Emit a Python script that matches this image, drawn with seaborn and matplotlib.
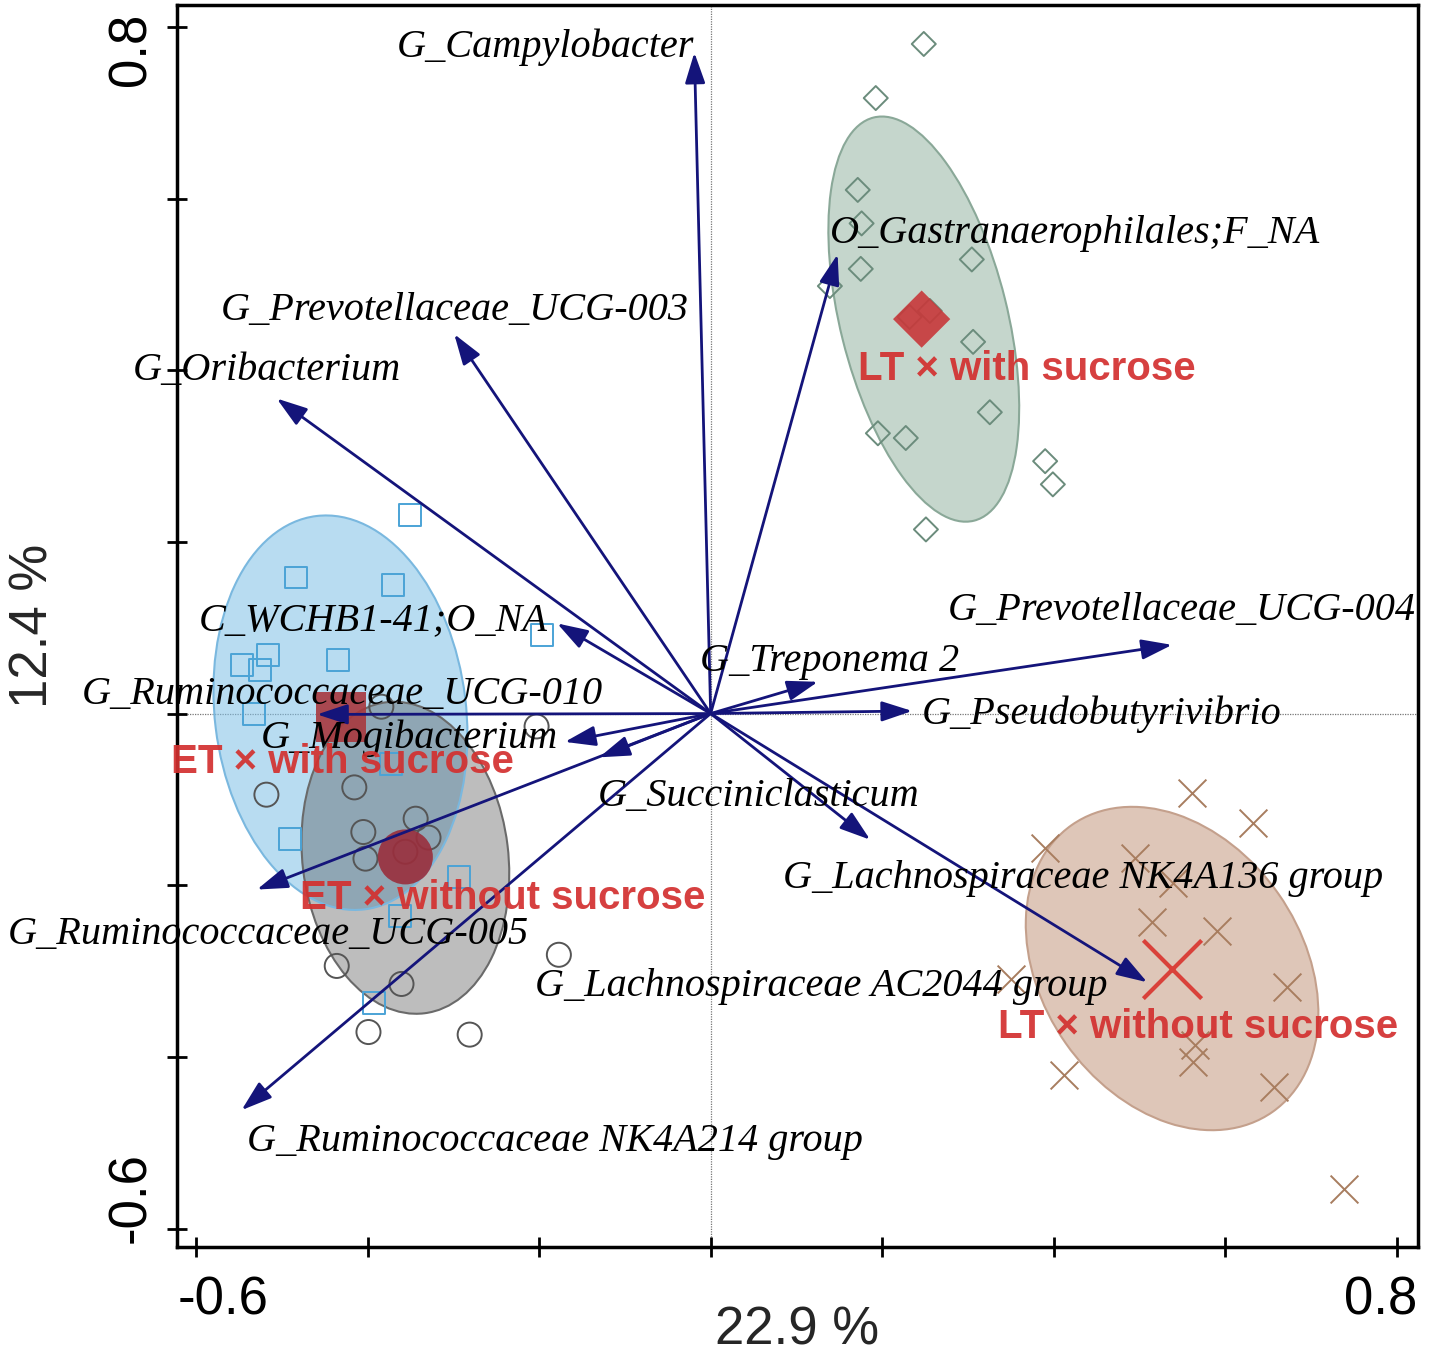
import numpy as np
import pandas as pd
import matplotlib
matplotlib.use("Agg")
import matplotlib.pyplot as plt
import matplotlib.transforms as mtransforms
import seaborn as sns
from matplotlib.patches import Ellipse

# --- Dati (RDA biplot) ---
species = [
    "G_Campylobacter", "O_Gastranaerophilales;F_NA", "G_Prevotellaceae_UCG-003",
    "G_Oribacterium", "C_WCHB1-41;O_NA", "G_Ruminococcaceae_UCG-010",
    "G_Mogibacterium", "G_Succiniclasticum", "G_Ruminococcaceae_UCG-005",
    "G_Ruminococcaceae NK4A214 group", "G_Lachnospiraceae AC2044 group",
    "G_Lachnospiraceae NK4A136 group", "G_Pseudobutyrivibrio", "G_Treponema 2",
    "G_Prevotellaceae_UCG-004",
]
arrow_x = [-0.019, 0.148, -0.299, -0.506, -0.179, -0.459, -0.170, -0.130,
           -0.529, -0.547, 0.509, 0.186, 0.235, 0.125, 0.538]
arrow_y = [0.770, 0.535, 0.442, 0.367, 0.105, -0.001, -0.033, -0.051,
           -0.205, -0.462, -0.313, -0.147, 0.003, 0.037, 0.080]

groups = ["LT × with sucrose", "LT × without sucrose",
          "ET × with sucrose", "ET × without sucrose"]

lt_suc_x = [0.2485, 0.1925, 0.1715, 0.176, 0.175, 0.139, 0.3045, 0.232,
            0.2555, 0.306, 0.3255, 0.195, 0.2275, 0.390, 0.399, 0.251]
lt_suc_y = [0.780, 0.717, 0.610, 0.571, 0.518, 0.498, 0.529, 0.462,
            0.469, 0.433, 0.351, 0.3265, 0.321, 0.294, 0.267, 0.2145]

lt_nosuc_x = [0.561, 0.632, 0.390, 0.495, 0.539, 0.5145, 0.590, 0.672,
              0.350, 0.565, 0.562, 0.412, 0.657, 0.7385]
lt_nosuc_y = [-0.093, -0.127, -0.157, -0.168, -0.197, -0.2425, -0.253, -0.318,
              -0.309, -0.386, -0.406, -0.421, -0.435, -0.554]

et_suc_x = [-0.351, -0.483, -0.370, -0.197, -0.547, -0.516, -0.526, -0.434,
            -0.532, -0.491, -0.293, -0.362, -0.393, -0.373]
et_suc_y = [0.231, 0.1585, 0.150, 0.091, 0.057, 0.068, 0.051, 0.062,
            0.000, -0.146, -0.190, -0.2355, -0.337, -0.059]

et_nosuc_x = [-0.384, -0.203, -0.518, -0.4155, -0.405, -0.344, -0.329, -0.4025,
              -0.356, -0.177, -0.436, -0.3605, -0.399, -0.281]
et_nosuc_y = [0.008, -0.015, -0.0945, -0.086, -0.138, -0.1225, -0.1445, -0.169,
              -0.161, -0.281, -0.294, -0.315, -0.371, -0.374]

# centroidi dei gruppi
cent_x = [0.246, 0.538, -0.4306, -0.356]
cent_y = [0.4595, -0.297, -0.0035, -0.167]

# ellissi di confidenza: centro, larghezza, altezza, angolo
ell_x = [0.2485, 0.538, -0.4317, -0.356]
ell_y = [0.4595, -0.297, 0.001, -0.168]
ell_w = [0.484, 0.408, 0.4616, 0.365]
ell_h = [0.195, 0.303, 0.293, 0.240]
ell_angle = [104, -55, 97, 97]

samples = pd.concat([
    pd.DataFrame({"x": lt_suc_x, "y": lt_suc_y, "group": groups[0]}),
    pd.DataFrame({"x": lt_nosuc_x, "y": lt_nosuc_y, "group": groups[1]}),
    pd.DataFrame({"x": et_suc_x, "y": et_suc_y, "group": groups[2]}),
    pd.DataFrame({"x": et_nosuc_x, "y": et_nosuc_y, "group": groups[3]}),
], ignore_index=True)

# --- Stile ---
SANS = ["Liberation Sans", "DejaVu Sans"]
SERIF = ["Liberation Serif", "DejaVu Serif"]
sns.set_style("ticks")
plt.rcParams["font.family"] = SANS

marker_map = {groups[0]: "D", groups[1]: "x", groups[2]: "s", groups[3]: "o"}
size_map = {groups[0]: 150, groups[1]: 400, groups[2]: 250, groups[3]: 300}
point_col = {groups[0]: "#6b8c7c", groups[1]: "#a87d5f",
             groups[2]: "#4ba3d6", groups[3]: "#555555"}
ell_face = ["#9fbcab", "#c9a08a", "#7fc0e6", "#404040"]
ell_alpha = [0.6, 0.6, 0.55, 0.34]
ell_edge = ["#8aa898", "#c4a08c", "#7ab8df", "#6a6a6a"]
cent_size = [850, 1760, 1300, 1570]
cent_col = ["#c8383a", "#d9413a", "#a8383e", "#9a2e3c"]

# posizioni delle etichette (layout)
sp_lab = [(-0.019, 0.781, "right"), (0.139, 0.564, "left"), (-0.025, 0.475, "right"),
          (-0.674, 0.405, "left"), (-0.190, 0.114, "right"), (-0.733, 0.028, "left"),
          (-0.524, -0.024, "left"), (-0.132, -0.091, "left"), (-0.820, -0.252, "left"),
          (-0.541, -0.493, "left"), (-0.205, -0.313, "left"), (0.084, -0.187, "left"),
          (0.246, 0.005, "left"), (-0.013, 0.066, "left"), (0.277, 0.125, "left")]
grp_lab = [(0.369, 0.401), (0.568, -0.365), (-0.429, -0.056), (-0.243, -0.2145)]

fig = plt.figure(figsize=(14.35, 13.58), dpi=100)
ax = fig.add_axes([0.1235, 0.082, 0.8645, 0.9145])

ax.axvline(0, color="#777777", lw=0.9, ls=(0, (1, 1)), zorder=0.5)
ax.axhline(0, color="#777777", lw=0.9, ls=(0, (1, 1)), zorder=0.5)

for i in range(4):
    e = Ellipse((ell_x[i], ell_y[i]), ell_w[i], ell_h[i], angle=ell_angle[i],
                facecolor=ell_face[i], alpha=ell_alpha[i], edgecolor="none", zorder=1)
    ax.add_patch(e)
    e2 = Ellipse((ell_x[i], ell_y[i]), ell_w[i], ell_h[i], angle=ell_angle[i],
                 facecolor="none", edgecolor=ell_edge[i], lw=1.5, zorder=1.1)
    ax.add_patch(e2)

for g in groups:
    d = samples[samples["group"] == g]
    if marker_map[g] == "x":
        sns.scatterplot(data=d, x="x", y="y", marker="x", s=size_map[g],
                        color=point_col[g], linewidth=1.4, ax=ax, zorder=2)
    else:
        sns.scatterplot(data=d, x="x", y="y", marker=marker_map[g], s=size_map[g],
                        facecolor="none", edgecolor=point_col[g], linewidth=1.4,
                        ax=ax, zorder=2)

for i, g in enumerate(groups):
    if marker_map[g] == "x":
        ax.scatter(cent_x[i], cent_y[i], marker="x", s=cent_size[i], color=cent_col[i],
                   linewidths=3, zorder=3)
    else:
        ax.scatter(cent_x[i], cent_y[i], marker=marker_map[g], s=cent_size[i],
                   color=cent_col[i], edgecolors="none", alpha=0.9, zorder=3)

for name, tx, ty in zip(species, arrow_x, arrow_y):
    ax.annotate("", xy=(tx, ty), xytext=(0, 0),
                arrowprops=dict(arrowstyle="-|>,head_length=0.85,head_width=0.28",
                                color="#14147a", lw=2, mutation_scale=22,
                                shrinkA=0, shrinkB=0), zorder=4)

for name, (lx, ly, ha) in zip(species, sp_lab):
    ax.text(lx, ly, name, ha=ha, va="center_baseline", fontsize=29,
            family=SERIF, style="italic", color="black", zorder=5)

for g, (lx, ly) in zip(groups, grp_lab):
    ax.text(lx, ly, g, ha="center", va="center", fontsize=29, fontweight="bold",
            color="#d3302f", alpha=0.92, zorder=6)

ax.set_xlim(-0.622, 0.8245)
ax.set_ylim(-0.621, 0.8257)
ticks = [-0.6, -0.4, -0.2, 0.0, 0.2, 0.4, 0.6, 0.8]
tick_labels = ["-0.6", "", "", "", "", "", "", "0.8"]
ax.set_xticks(ticks, tick_labels)
ax.set_yticks(ticks, tick_labels, rotation=90, va="center")
ax.tick_params(axis="both", direction="inout", length=14, width=2,
               labelsize=38, colors="black")
ax.tick_params(axis="x", pad=14)
ax.tick_params(axis="y", pad=8)
for s in ax.spines.values():
    s.set_linewidth(2.5)
    s.set_color("black")

# le etichette estreme sono spostate verso l'interno, come nell'originale
shift_x = {0: (0.27, 0), 7: (-0.16, 0)}
shift_y = {0: (0, 0.31), 7: (0, -0.23)}
for i, lab in enumerate(ax.get_xticklabels()):
    if i in shift_x:
        off = mtransforms.ScaledTranslation(*shift_x[i], fig.dpi_scale_trans)
        lab.set_transform(lab.get_transform() + off)
for i, lab in enumerate(ax.get_yticklabels()):
    if i in shift_y:
        off = mtransforms.ScaledTranslation(*shift_y[i], fig.dpi_scale_trans)
        lab.set_transform(lab.get_transform() + off)

ax.set_xlabel("22.9 %", fontsize=38)
ax.set_ylabel("12.4 %", fontsize=38)
ax.xaxis.set_label_coords(0.5, -0.0475)
ax.yaxis.set_label_coords(-0.0955, 0.5)

fig.savefig("out.png", dpi=100)
